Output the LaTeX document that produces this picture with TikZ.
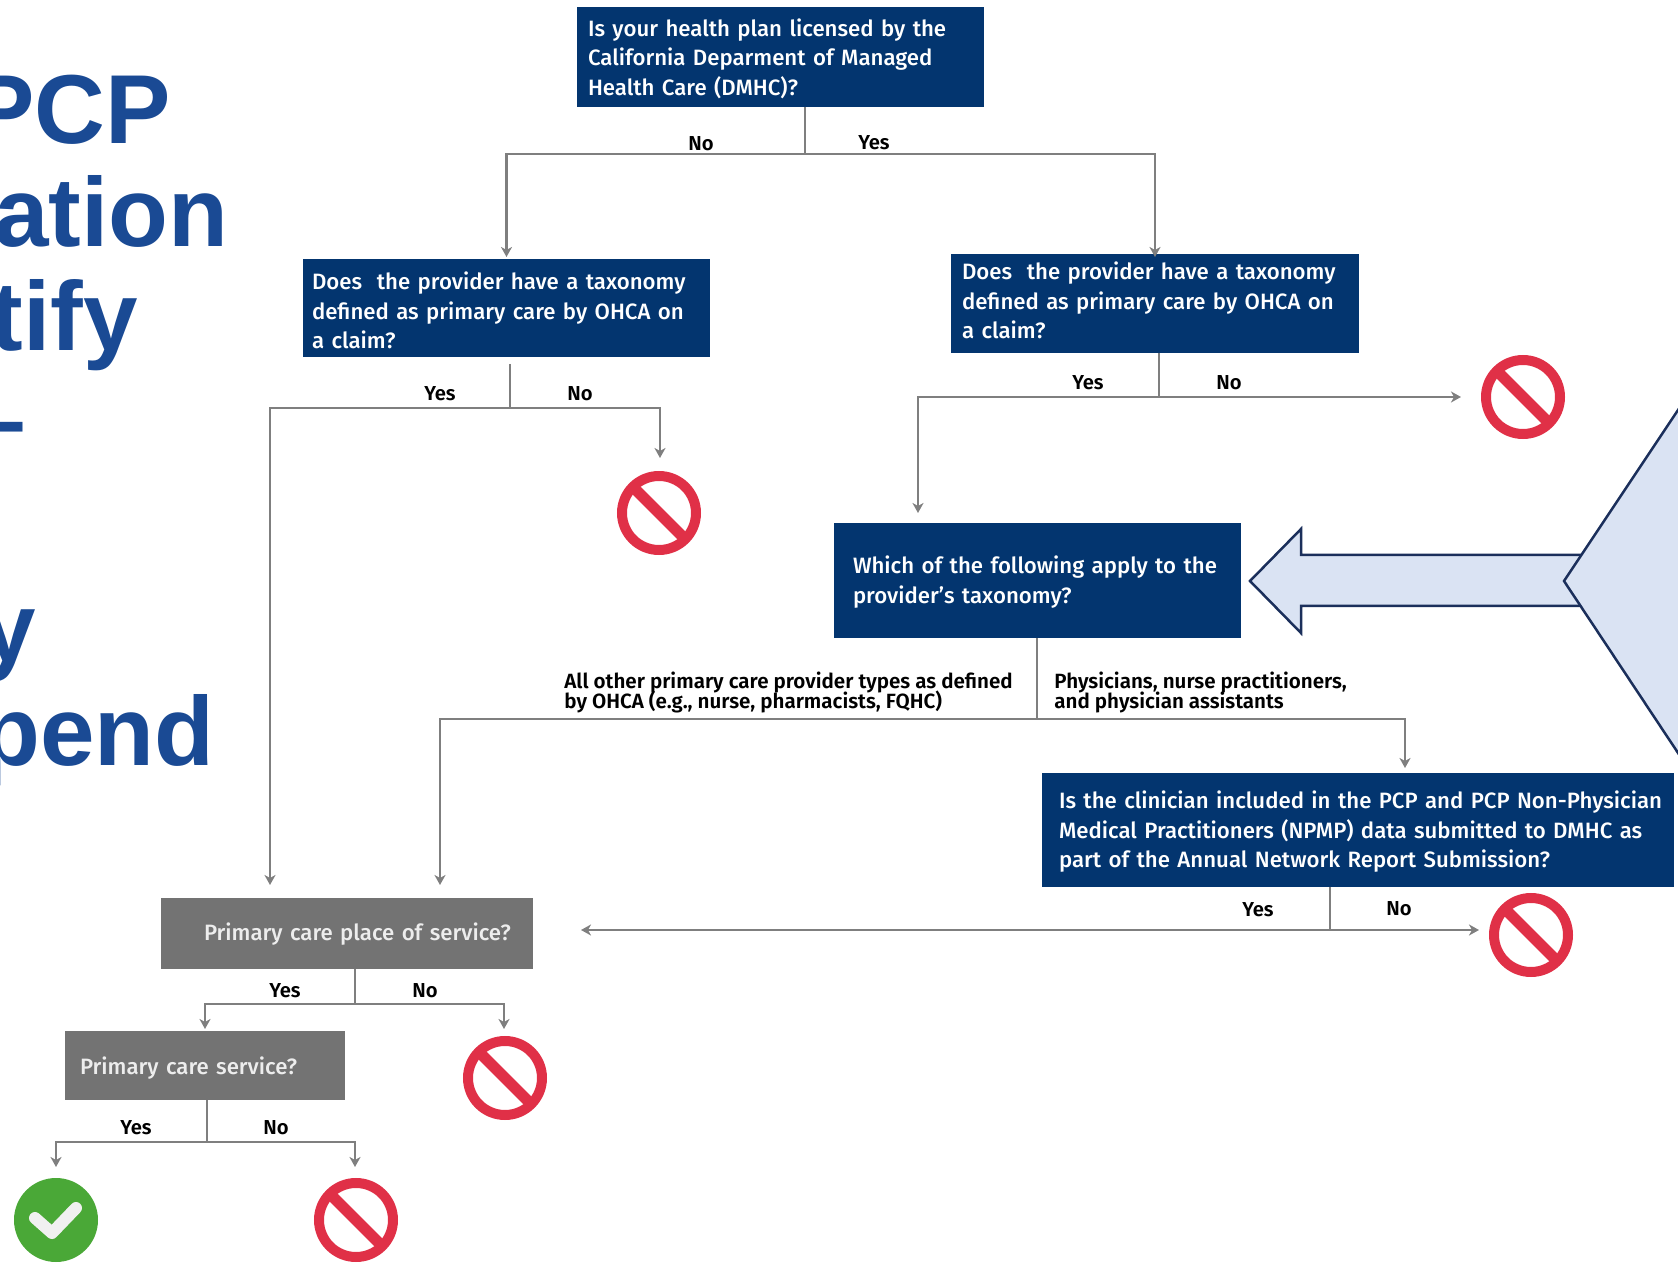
\documentclass[tikz,border=0pt]{standalone}
\usepackage{fontspec}
\setmainfont{Fira Sans}
\newfontfamily\medfont{Fira Sans Medium}
\newfontfamily\semifont{Fira Sans SemiBold}
\newfontfamily\titlefont{Liberation Sans}[BoldFont={Liberation Sans Bold}]
\usetikzlibrary{arrows.meta}
\definecolor{navybox}{HTML}{03356F}
\definecolor{graybox}{HTML}{737373}
\definecolor{conn}{HTML}{7F7F7F}
\definecolor{stopred}{HTML}{E03047}
\definecolor{okgreen}{HTML}{4AA837}
\definecolor{titleblue}{HTML}{1A4A94}
\definecolor{calloutfill}{HTML}{DAE3F3}
\definecolor{calloutline}{HTML}{1B2F5B}
\newcommand{\dropfirst}[1]{\rule{0pt}{#1}}
\newcommand{\liftlast}[1]{\rule[-#1]{0pt}{1pt}}
\newcommand{\tightlines}{\lineskiplimit-5pt\relax}
\tikzset{
  x=0.5pt,y=-0.5pt,
  qbox/.style={rectangle,anchor=north west,outer sep=0pt,inner ysep=0pt,align=left,text=white,
    font=\medfont\fontsize{11.1}{14.9}\selectfont\tightlines},
  navy/.style={qbox,fill=navybox},
  grayq/.style={qbox,fill=graybox,text=white!93!black},
  line/.style={draw=conn,line width=1.25pt},
  arr/.style={line,-{Stealth[length=5pt,width=5.5pt,inset=1.5pt]}},
  lab/.style={text=black,font=\semifont\fontsize{10.1}{9.6}\selectfont\tightlines,inner sep=0pt},
  longlab/.style={text=black,font=\semifont\fontsize{10.3}{9.6}\selectfont\tightlines,inner sep=0pt,anchor=west,align=left},
  stopsign/.style={circle,draw=stopred,line width=5pt,minimum size=37pt,inner sep=0pt,outer sep=0pt,
    path picture={\draw[stopred,line width=5.6pt] (path picture bounding box.north west) -- (path picture bounding box.south east);}},
  oksign/.style={circle,fill=okgreen,minimum size=42pt,inner sep=0pt,outer sep=0pt},
  ttl/.style={anchor=base east,inner sep=0pt,text=titleblue,font=\titlefont\bfseries\fontsize{49}{49}\selectfont},
  callout/.style={fill=calloutfill,draw=calloutline,line width=1.25pt,line join=miter},
}
\begin{document}
\begin{tikzpicture}
\useasboundingbox (0,0) rectangle (1678,1267);
\clip (0,0) rectangle (1678,1267);

% title fragments
\node[ttl] (t1) at (171,144) {PCP};
\node[ttl] (t2) at (229,247) {ation};
\node[ttl] (t3) at (138,351) {tify};
\node[ttl] (t4) at (26,454) {–};
\node[ttl] (t5) at (36,662) {y};
\node[ttl] (t6) at (215,766) {pend};

% boxes
\node[navy,minimum width=203.5pt,minimum height=50pt,inner xsep=5.5pt,text width=192.5pt] (box1) at (577,7)
  {\dropfirst{10.6pt}Is your health plan licensed by the\\California Deparment of Managed\\Health Care (DMHC)?};
\node[navy,minimum width=203.5pt,minimum height=49pt,inner xsep=4.5pt,text width=194.5pt] (boxL) at (303,259)
  {\dropfirst{11.2pt}Does\ \ the provider have a taxonomy\\defined as primary care by OHCA on\\a claim?};
\node[navy,minimum width=204pt,minimum height=49.5pt,inner xsep=5.5pt,text width=193pt] (boxR) at (951,254)
  {Does\ \ the provider have a taxonomy\\defined as primary care by OHCA on\\a claim?\liftlast{3.3pt}};
\node[navy,minimum width=203.5pt,minimum height=57.5pt,inner xsep=9.5pt,text width=184.5pt] (boxW) at (834,523)
  {\dropfirst{10.1pt}Which of the following apply to the\\provider’s taxonomy?};
\node[navy,minimum width=316pt,minimum height=57pt,inner xsep=8.5pt,text width=299pt] (boxC) at (1042,773)
  {\dropfirst{10.6pt}\rlap{Is the clinician included in the PCP and PCP Non-Physician}\\Medical Practitioners (NPMP) data submitted to DMHC as\\part of the Annual Network Report Submission?};
\node[grayq,minimum width=186pt,minimum height=35.5pt,inner xsep=21.5pt,text width=143pt] (boxP) at (161,898)
  {\dropfirst{9.6pt}\rlap{Primary care place of service?}};
\node[grayq,minimum width=140pt,minimum height=34.5pt,inner xsep=7.5pt,text width=125pt] (boxS) at (65,1031)
  {\dropfirst{11.2pt}Primary care service?};

% signs
\node[stopsign] (s1) at (659,513) {};
\node[stopsign] (s2) at (1523,397) {};
\node[stopsign] (s3) at (1531,935) {};
\node[stopsign] (s4) at (505,1078) {};
\node[stopsign] (s5) at (356,1220) {};
\node[oksign] (ok) at (56,1220) {};
\draw[white!94!black,line width=6pt,line cap=round,line join=round] (35,1218) -- (52,1233) -- (76,1208);

% junctions
\coordinate (j1) at (805,154);
\coordinate (j2) at (510,408);
\coordinate (j3) at (1159,397);
\coordinate (j4) at (1037,719);
\coordinate (j5) at (1330,930);
\coordinate (j6) at (355,1004);
\coordinate (j7) at (207,1142);
\coordinate (e2l) at (270,885);
\coordinate (e2r) at (660,458);
\coordinate (e3l) at (918,513);
\coordinate (e3r) at (1461,397);
\coordinate (e4l) at (440,885);
\coordinate (e4r) at (1405,768);
\coordinate (e5l) at (581,930);
\coordinate (e5r) at (1479,930);
\coordinate (e6l) at (205,1029);
\coordinate (e6r) at (504,1029);
\coordinate (e7l) at (56,1167);
\coordinate (e7r) at (355,1167);

% connectors
\draw[line] (box1.south -| j1) -- (j1);
\draw[arr] (j1) -| ([yshift=1pt]boxL.north);
\draw[arr] (j1) -| ([yshift=-1.5pt]boxR.north);
\draw[line,shorten <=3.5pt] (boxL.south -| j2) -- (j2);
\draw[arr] (j2) -| (e2l);
\draw[arr] (j2) -| (e2r);
\draw[line] (boxR.south -| j3) -- (j3);
\draw[arr] (j3) -| (e3l);
\draw[arr] (j3) -- (e3r);
\draw[line] (boxW.south -| j4) -- (j4);
\draw[arr] (j4) -| (e4l);
\draw[arr] (j4) -| (e4r);
\draw[line] (boxC.south -| j5) -- (j5);
\draw[arr] (j5) -- (e5l);
\draw[arr] (j5) -- (e5r);
\draw[line] (boxP.south -| j6) -- (j6);
\draw[arr] (j6) -| (e6l);
\draw[arr] (j6) -| (e6r);
\draw[line] (boxS.south -| j7) -- (j7);
\draw[arr] (j7) -| (e7l);
\draw[arr] (j7) -| (e7r);

% labels
\node[lab] (l1) at (701,144) {No};
\node[lab] (l2) at (874,143) {Yes};
\node[lab] (l3) at (440,394) {Yes};
\node[lab] (l4) at (580,394) {No};
\node[lab] (l5) at (1088,383) {Yes};
\node[lab] (l6) at (1229,383) {No};
\node[longlab] (l7) at (564,692.5) {All other primary care provider types as defined\\by OHCA (e.g., nurse, pharmacists, FQHC)};
\node[longlab] (l8) at (1054,692.5) {Physicians, nurse practitioners,\\and physician assistants};
\node[lab] (l9) at (1258,910) {Yes};
\node[lab] (l10) at (1399,909) {No};
\node[lab] (l11) at (285,991) {Yes};
\node[lab] (l12) at (425,991) {No};
\node[lab] (l13) at (136,1128) {Yes};
\node[lab] (l14) at (276,1128) {No};

% callout arrow
\draw[callout] (1590,555) -- (1301,555) -- (1301,529) -- (1250,581) -- (1301,633) -- (1301,606) -- (1590,606);
\draw[callout] (1690,392) -- (1564,581) -- (1690,771) -- cycle;
\end{tikzpicture}
\end{document}
